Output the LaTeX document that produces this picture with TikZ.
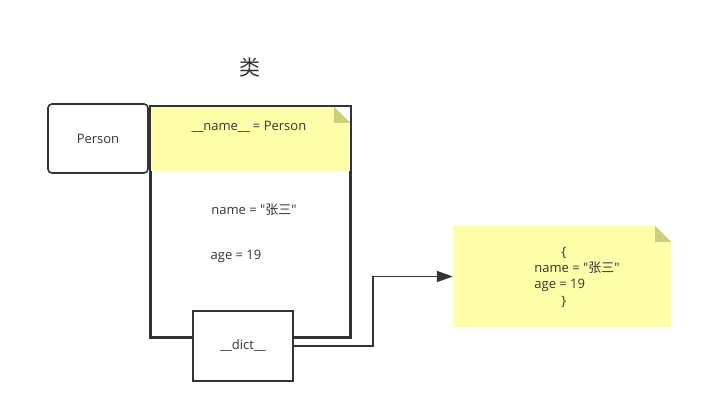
\documentclass[tikz,border=0pt]{standalone}
\usepackage{fontspec}
\setmainfont{Open Sans}[Ligatures=TeXOff]
\newfontfamily\cjk{Noto Sans CJK SC}[Ligatures=TeXOff]
\usetikzlibrary{arrows.meta,positioning}
\definecolor{notefill}{RGB}{255,255,170}
\definecolor{notefold}{RGB}{206,206,122}
\definecolor{inkline}{RGB}{51,51,51}

\begin{document}
\begin{tikzpicture}[
  x=1pt, y=-1pt,
  font=\fontsize{13}{16}\selectfont, text=inkline,
  box/.style={draw=inkline, line width=1.6pt, fill=white, align=center, inner sep=0pt},
  note/.style={fill=notefill, align=center, inner sep=0pt},
  label/.style={inner sep=0pt, anchor=center},
  arr/.style={-{Triangle[length=16pt,width=11pt]}, line width=1.6pt, draw=inkline},
]
\useasboundingbox (0,0) rectangle (703,413);
\node[label, font=\cjk\fontsize{21}{24}\selectfont] (title) at (250,68) {类};
\node[box, rounded corners=4pt, minimum width=100pt, minimum height=69pt] (person) at (98,138.5) {Person};
% class frame with name note on top
\node[box, minimum width=199pt, minimum height=230pt] (frame) at (250.5,222) {};
\node[note, minimum width=199pt, minimum height=64pt] (namenote) at (250.5,139) {};
\fill[white] (namenote.north east) -- ++(-16,0) -- ++(16,16) -- cycle;
\fill[notefold] (namenote.north east) ++(-16,0) -- ++(16,16) -- ++(-16,0) -- cycle;
\draw[inkline, line width=1.6pt] (frame.south west) rectangle (frame.north east);
\node[label] (clsname) at (249,127) {\_\_name\_\_ = Person};
\node[label] (attrname) at (254,210) {name = "{\cjk 张三}"};
\node[label] (attrage) at (236,256) {age = 19};
\node[box, minimum width=100pt, minimum height=70pt] (dict) at (243,346) {\_\_dict\_\_};
% dict contents
\node[note, minimum width=218pt, minimum height=101pt] (dictnote) at (562,276.5) {};
\fill[white] (dictnote.north east) -- ++(-16,0) -- ++(16,16) -- cycle;
\fill[notefold] (dictnote.north east) ++(-16,0) -- ++(16,16) -- ++(-16,0) -- cycle;
\node[label, align=left, font=\fontsize{13}{16.3}\selectfont] (dicttext) at (577,277) {\hspace{27pt}\{\\name = "{\cjk 张三}"\\age = 19\\\hspace{27pt}\}};
\draw[arr] (dict.east) -- ++(79,0) |- (dictnote.west);
\end{tikzpicture}
\end{document}
